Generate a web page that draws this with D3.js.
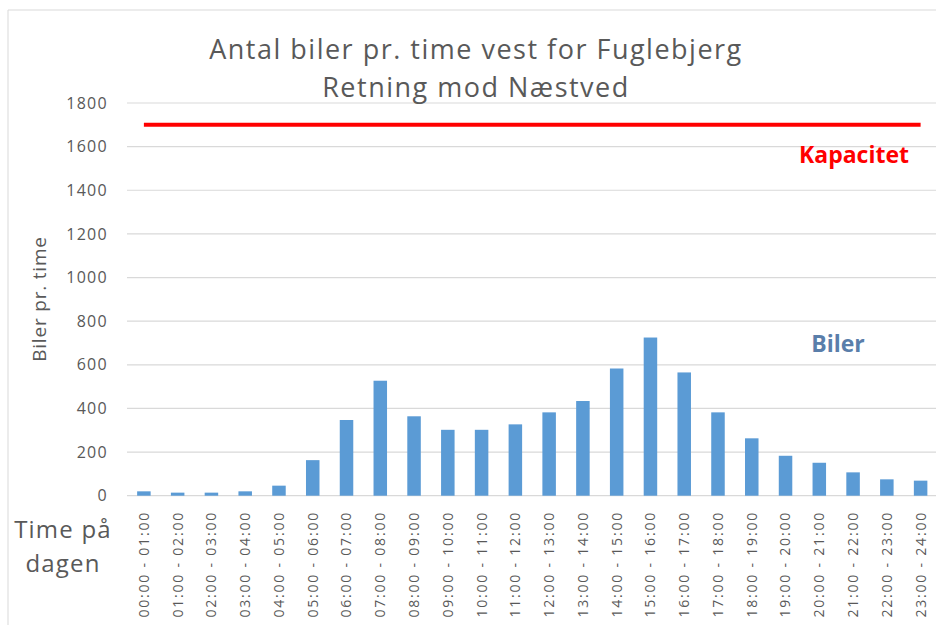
<!DOCTYPE html>
<html><head><meta charset="utf-8">
<script src="https://cdn.jsdelivr.net/npm/d3@7"></script>
<style>body{margin:0;background:#fff}svg{display:block}</style>
</head><body><svg id="c" width="936" height="625"></svg>
<script>
const categories = ["00:00 - 01:00","01:00 - 02:00","02:00 - 03:00","03:00 - 04:00","04:00 - 05:00","05:00 - 06:00","06:00 - 07:00","07:00 - 08:00","08:00 - 09:00","09:00 - 10:00","10:00 - 11:00","11:00 - 12:00","12:00 - 13:00","13:00 - 14:00","14:00 - 15:00","15:00 - 16:00","16:00 - 17:00","17:00 - 18:00","18:00 - 19:00","19:00 - 20:00","20:00 - 21:00","21:00 - 22:00","22:00 - 23:00","23:00 - 24:00"];
const biler = [20,14,14,20,46,163,347,527,364,302,302,327,382,434,583,725,565,382,263,183,151,107,75,69];
const kapacitet = [1700,1700,1700,1700,1700,1700,1700,1700,1700,1700,1700,1700,1700,1700,1700,1700,1700,1700,1700,1700,1700,1700,1700,1700];
const yTicks = [0,200,400,600,800,1000,1200,1400,1600,1800];
const titleLines = ["Antal biler pr. time vest for Fuglebjerg","Retning mod Næstved"];

const svg = d3.select("#c");
const font = "'Open Sans', 'Noto Sans', sans-serif";
const grey = "#595959";

// chart area border
svg.append("path").attr("d","M8,625 L8,10 L936,10").attr("fill","none").attr("stroke","#d9d9d9").attr("stroke-width",1);

const x = d3.scaleBand().domain(categories).range([127, 937.5]).paddingInner(0.6).paddingOuter(0.3);
const y = d3.scaleLinear().domain([0,1800]).range([495.7, 103]);

// gridlines
svg.append("g").selectAll("line").data(yTicks).join("line")
  .attr("x1",127).attr("x2",936).attr("y1",d=>y(d)).attr("y2",d=>y(d))
  .attr("stroke","#d9d9d9").attr("stroke-width",1.2);

// y axis labels
const yAxis = d3.axisLeft(y).tickValues(yTicks).tickFormat(d3.format("d")).tickSize(0).tickPadding(0);
const ga = svg.append("g").attr("transform","translate(108,0)").call(yAxis);
ga.select(".domain").remove();
ga.selectAll("text").attr("font-family",font).attr("font-size",16).attr("letter-spacing","1.3px").attr("fill",grey);

// bars
svg.append("g").selectAll("rect").data(biler).join("rect")
  .attr("x",(d,i)=>x(categories[i]))
  .attr("width",x.bandwidth())
  .attr("y",d=>y(d))
  .attr("height",d=>y(0)-y(d))
  .attr("fill","#5b9bd5");

// capacity line
const line = d3.line().x((d,i)=>x(categories[i])+x.bandwidth()/2).y(d=>y(d));
svg.append("path").datum(kapacitet).attr("d",line).attr("fill","none").attr("stroke","#ff0000").attr("stroke-width",4);

// x labels
const xAxis = d3.axisBottom(x).tickSize(0).tickPadding(0);
const gx = svg.append("g").attr("transform","translate(0,511)").call(xAxis);
gx.select(".domain").remove();
gx.selectAll("text").attr("font-family",font).attr("font-size",14).attr("letter-spacing","1.8px").attr("fill",grey)
  .attr("transform","rotate(-90)").attr("text-anchor","end").attr("dy","0.35em").attr("x",0).attr("y",0);

// title
svg.append("g").selectAll("text").data(titleLines).join("text")
  .attr("x",476).attr("y",(d,i)=>59+i*38).attr("text-anchor","middle")
  .attr("font-family",font).attr("font-size",27).attr("letter-spacing","1.5px").attr("fill",grey).text(d=>d);

// y axis title
svg.append("text").attr("transform","translate(46,299) rotate(-90)").attr("text-anchor","middle")
  .attr("font-family",font).attr("font-size",19).attr("letter-spacing","0.8px").attr("fill",grey).text("Biler pr. time");

// x axis title
svg.append("g").selectAll("text").data(["Time på","dagen"]).join("text")
  .attr("x",63).attr("y",(d,i)=>538+i*34).attr("text-anchor","middle")
  .attr("font-family",font).attr("font-size",24).attr("letter-spacing","1.2px").attr("fill",grey).text(d=>d);

// series labels
svg.append("text").attr("x",854).attr("y",163).attr("text-anchor","middle")
  .attr("font-family",font).attr("font-size",23).attr("font-weight","bold").attr("fill","#ff0000").text("Kapacitet");
svg.append("text").attr("x",838).attr("y",352).attr("text-anchor","middle")
  .attr("font-family",font).attr("font-size",23).attr("font-weight","bold").attr("fill","#5a7eaa").text("Biler");
</script></body></html>
